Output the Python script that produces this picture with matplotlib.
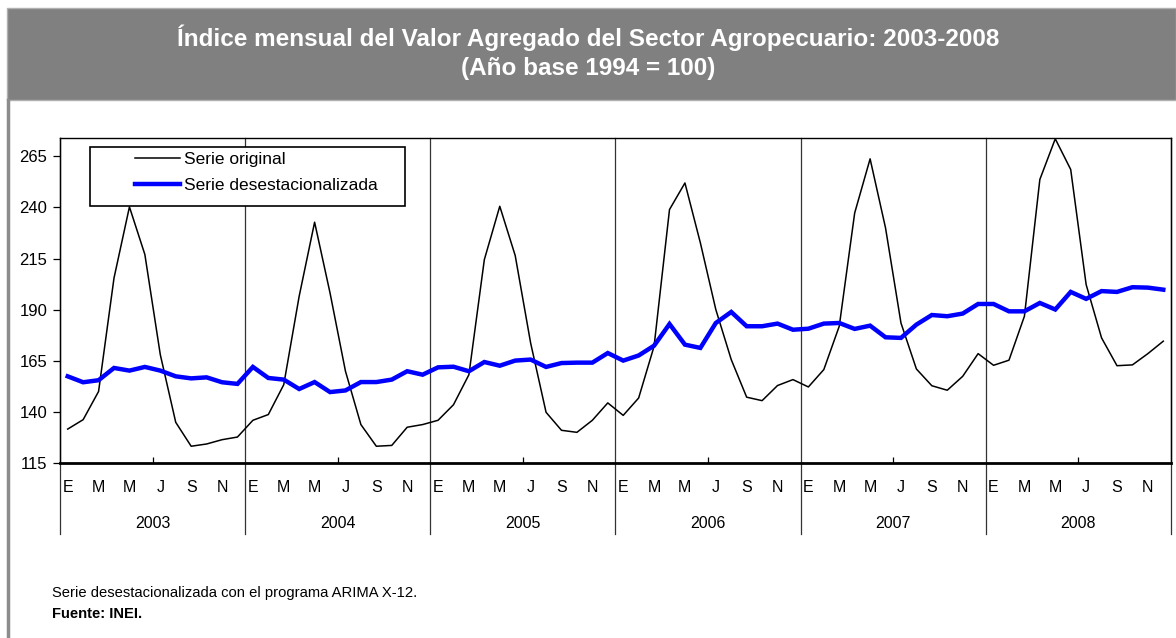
"""Índice mensual del Valor Agregado del Sector Agropecuario 2003-2008."""

import matplotlib
matplotlib.use("Agg")
import matplotlib.pyplot as plt
import matplotlib.transforms as mtransforms
from matplotlib.patches import Rectangle

FONT = ["Liberation Sans", "DejaVu Sans"]
plt.rcParams["font.family"] = FONT

YEARS = ["2003", "2004", "2005", "2006", "2007", "2008"]
MONTH_LABELS = ["E", "M", "M", "J", "S", "N"]

# Serie original (index 1994 = 100), ene-dic por año
original_2003 = [131.6, 136.2, 150.0, 205.5, 240.3, 217.0, 168.0, 134.9, 123.2, 124.3, 126.4, 127.7]
original_2004 = [135.9, 138.7, 153.3, 196.6, 232.8, 198.2, 159.9, 133.8, 123.2, 123.6, 132.5, 133.8]
original_2005 = [135.9, 143.5, 158.2, 214.5, 240.6, 216.5, 173.7, 139.8, 131.0, 130.0, 135.9, 144.4]
original_2006 = [138.3, 146.8, 172.1, 239.0, 252.0, 222.7, 190.1, 165.6, 147.2, 145.5, 152.9, 155.8]
original_2007 = [152.2, 160.7, 181.9, 237.3, 263.8, 230.0, 183.5, 161.0, 152.8, 150.6, 157.4, 168.5]
original_2008 = [162.8, 165.3, 186.8, 253.7, 273.6, 258.6, 202.3, 176.2, 162.6, 163.0, 168.5, 174.6]

# Serie desestacionalizada
desest_2003 = [157.4, 154.5, 155.5, 161.5, 160.2, 162.0, 160.2, 157.4, 156.4, 156.9, 154.5, 153.7]
desest_2004 = [162.0, 156.6, 155.8, 151.2, 154.6, 149.7, 150.5, 154.6, 154.6, 155.8, 159.9, 158.2]
desest_2005 = [161.8, 162.1, 159.9, 164.4, 162.6, 165.1, 165.6, 162.0, 163.9, 164.1, 164.1, 168.8]
desest_2006 = [165.1, 167.6, 172.4, 183.0, 172.9, 171.3, 183.5, 188.9, 181.9, 181.9, 183.2, 180.2]
desest_2007 = [180.7, 183.2, 183.5, 180.6, 182.2, 176.5, 176.2, 182.7, 187.4, 186.8, 188.1, 192.8]
desest_2008 = [192.8, 189.2, 189.2, 193.3, 190.1, 198.7, 195.3, 199.1, 198.7, 201.0, 200.8, 199.8]

Y_TICKS = [115, 140, 165, 190, 215, 240, 265]

original = (original_2003 + original_2004 + original_2005
            + original_2006 + original_2007 + original_2008)
desest = (desest_2003 + desest_2004 + desest_2005
          + desest_2006 + desest_2007 + desest_2008)
months = list(range(len(original)))

W, H = 1176, 638
fig = plt.figure(figsize=(W / 100, H / 100), dpi=100)


def fx(px):
    return px / W


def fy(py):
    return 1 - py / H


# header band and frame
fig.patches.append(Rectangle((fx(7), fy(100)), 1 - fx(7), fy(8) - fy(100),
                             transform=fig.transFigure, facecolor="#808080",
                             edgecolor="#b0b0b0", linewidth=1.0))
fig.lines.append(plt.Line2D([fx(8), fx(8)], [fy(100), 0], transform=fig.transFigure,
                            color="#8c8c8c", linewidth=2.5))
fig.text(0.5, fy(38), "Índice mensual del Valor Agregado del Sector Agropecuario: 2003-2008",
         ha="center", va="center", color="white", fontsize=17.5, fontweight="bold")
fig.text(0.5, fy(68), "(Año base 1994 = 100)",
         ha="center", va="center", color="white", fontsize=17.5, fontweight="bold")

# plot area
left, right, top, bottom = 60, 1171, 138, 463
ax = fig.add_axes([fx(left), fy(bottom), fx(right) - fx(left), fy(top) - fy(bottom)])

ax.plot(months, original, color="black", linewidth=1.1, label="Serie original", zorder=3)
ax.plot(months, desest, color="#0000FF", linewidth=3.2, label="Serie desestacionalizada",
        zorder=4, solid_joinstyle="miter")

ax.set_xlim(-0.5, len(months) - 0.5)
ax.set_ylim(115, 274)
ax.set_yticks(Y_TICKS)
ax.tick_params(axis="y", direction="out", length=5, width=0.9, labelsize=12, pad=4)
ax.set_xticks([12 * i + 5.5 for i in range(len(YEARS))])
ax.set_xticklabels([])
ax.tick_params(axis="x", direction="in", length=4, width=0.9)
for side in ["top", "right", "left"]:
    ax.spines[side].set_linewidth(1.0)
ax.spines["bottom"].set_linewidth(2.0)

trans = mtransforms.blended_transform_factory(ax.transData, ax.transAxes)
line_bottom = -(534 - bottom) / (bottom - top)
for i in range(len(YEARS) + 1):
    xb = 12 * i - 0.5
    ax.plot([xb, xb], [line_bottom, 1], transform=trans, color="#333333",
            linewidth=0.9, clip_on=False, zorder=2)

for i, year in enumerate(YEARS):
    for j, lab in enumerate(MONTH_LABELS):
        ax.text(12 * i + 2 * j, -(488 - bottom) / (bottom - top), lab, transform=trans,
                ha="center", va="center", fontsize=11.5)
    ax.text(12 * i + 5.5, -(523 - bottom) / (bottom - top), year, transform=trans,
            ha="center", va="center", fontsize=11.5)

# legend
ax.add_patch(Rectangle(((90 - left) / (right - left), (bottom - 206) / (bottom - top)),
                       (405 - 90) / (right - left), (206 - 147) / (bottom - top),
                       transform=ax.transAxes, facecolor="white", edgecolor="black",
                       linewidth=1.2, zorder=5))
leg = ax.legend(loc="upper left", bbox_to_anchor=((135 - left) / (right - left),
                                                  (bottom - 152) / (bottom - top)),
                frameon=False, fontsize=12.5, handlelength=2.6, handletextpad=0.25,
                labelspacing=0.62, borderaxespad=0, borderpad=0)
leg.set_zorder(6)

# footer
fig.text(fx(52), fy(593), "Serie desestacionalizada con el programa ARIMA X-12.",
         ha="left", va="center", fontsize=10.6)
fig.text(fx(52), fy(614), "Fuente: INEI.", ha="left", va="center", fontsize=10.6,
         fontweight="bold")

fig.savefig("out.png", dpi=100)
